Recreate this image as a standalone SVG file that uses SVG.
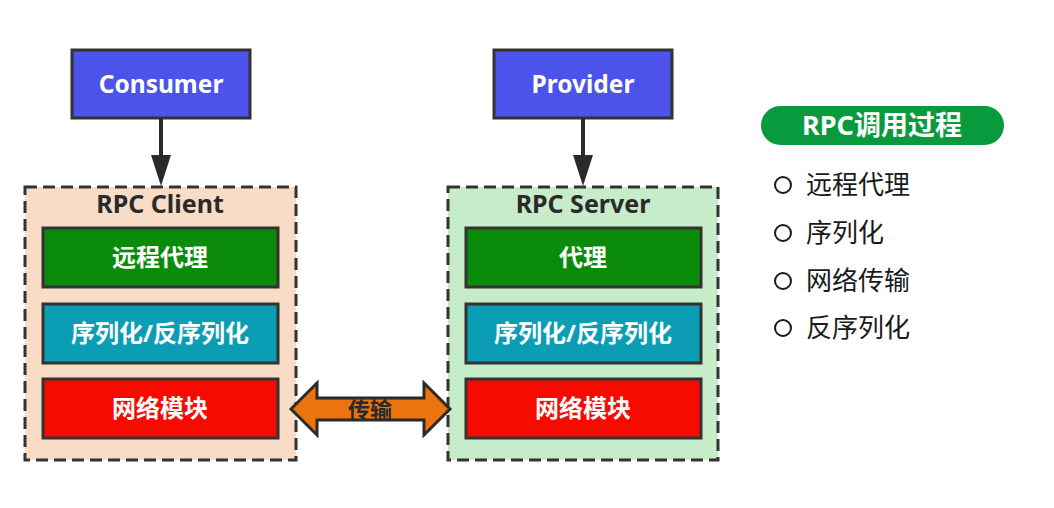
<svg xmlns="http://www.w3.org/2000/svg" width="1054" height="508" viewBox="0 0 1054 508">
<style>
text{font-family:"Noto Sans","Noto Sans CJK SC",sans-serif;}
.top{fill:#4b53ea;stroke:#333;stroke-width:3;}
.cont{stroke:#333;stroke-width:3;stroke-dasharray:12 6;}
.box{stroke:#333;stroke-width:3;}
.wt{fill:#fff;font-weight:bold;font-size:24.5px;text-anchor:middle;}
.bt{fill:#fff;font-weight:bold;font-size:24px;text-anchor:middle;}
.ct{fill:#2a2a2a;font-weight:bold;font-size:25px;text-anchor:middle;}
.li{fill:#1a1a1a;font-size:26px;font-family:"Noto Sans CJK SC",sans-serif;}
.bul{fill:none;stroke:#1a1a1a;stroke-width:2;}
.ar{fill:#2a2a2a;}
</style>
<rect width="1054" height="508" fill="#fff"/>
<g id="consumer">
<rect class="top" x="72" y="50" width="178" height="68"/>
<text class="wt" x="161" y="93">Consumer</text>
</g>
<g id="provider">
<rect class="top" x="494" y="50" width="178" height="68"/>
<text class="wt" x="583" y="93">Provider</text>
</g>
<g id="rpc-client">
<rect class="cont" x="25" y="187" width="271" height="273" fill="#f9dcc5"/>
<text class="ct" x="160" y="213">RPC Client</text>
</g>
<g id="client-proxy">
<rect class="box" x="43" y="228" width="235" height="59" fill="#0a8c0a"/>
<text class="bt" x="160" y="266">远程代理</text>
</g>
<g id="client-serial">
<rect class="box" x="43" y="304" width="235" height="59" fill="#0a9db3"/>
<text class="bt" x="160" y="342">序列化/反序列化</text>
</g>
<g id="client-net">
<rect class="box" x="43" y="379" width="235" height="59" fill="#f70a00"/>
<text class="bt" x="160" y="417">网络模块</text>
</g>
<g id="rpc-server">
<rect class="cont" x="448" y="187" width="270" height="273" fill="#c6ecc9"/>
<text class="ct" x="583" y="213">RPC Server</text>
</g>
<g id="server-proxy">
<rect class="box" x="466" y="228" width="235" height="59" fill="#0a8c0a"/>
<text class="bt" x="583" y="266">代理</text>
</g>
<g id="server-serial">
<rect class="box" x="466" y="304" width="235" height="59" fill="#0a9db3"/>
<text class="bt" x="583" y="342">序列化/反序列化</text>
</g>
<g id="server-net">
<rect class="box" x="466" y="379" width="235" height="59" fill="#f70a00"/>
<text class="bt" x="583" y="417">网络模块</text>
</g>
<g id="connectors">
<line x1="161" y1="118" x2="161" y2="158" stroke="#2a2a2a" stroke-width="4"/>
<path class="ar" d="M151,155 L171,155 L161,186 Z"/>
<line x1="583" y1="118" x2="583" y2="158" stroke="#2a2a2a" stroke-width="4"/>
<path class="ar" d="M573,155 L593,155 L583,186 Z"/>
<path d="M291,409 L317,383 L317,398 L424,398 L424,383 L450,409 L424,435 L424,420 L317,420 L317,435 Z" fill="#ec730d" stroke="#2a2a2a" stroke-width="3" stroke-linejoin="miter"/>
<text x="370" y="418" font-size="22" font-weight="bold" fill="#2a2a2a" text-anchor="middle">传输</text>
</g>
<g id="legend">
<rect x="761" y="106" width="243" height="39" rx="19.5" fill="#0a9a3e"/>
<text x="882" y="135" fill="#fff" font-size="27" font-weight="bold" text-anchor="middle">RPC调用过程</text>
<circle class="bul" cx="783" cy="185" r="8"/>
<text class="li" x="806" y="194">远程代理</text>
<circle class="bul" cx="783" cy="233" r="8"/>
<text class="li" x="806" y="242">序列化</text>
<circle class="bul" cx="783" cy="281" r="8"/>
<text class="li" x="806" y="290">网络传输</text>
<circle class="bul" cx="783" cy="328" r="8"/>
<text class="li" x="806" y="337">反序列化</text>
</g>
</svg>
